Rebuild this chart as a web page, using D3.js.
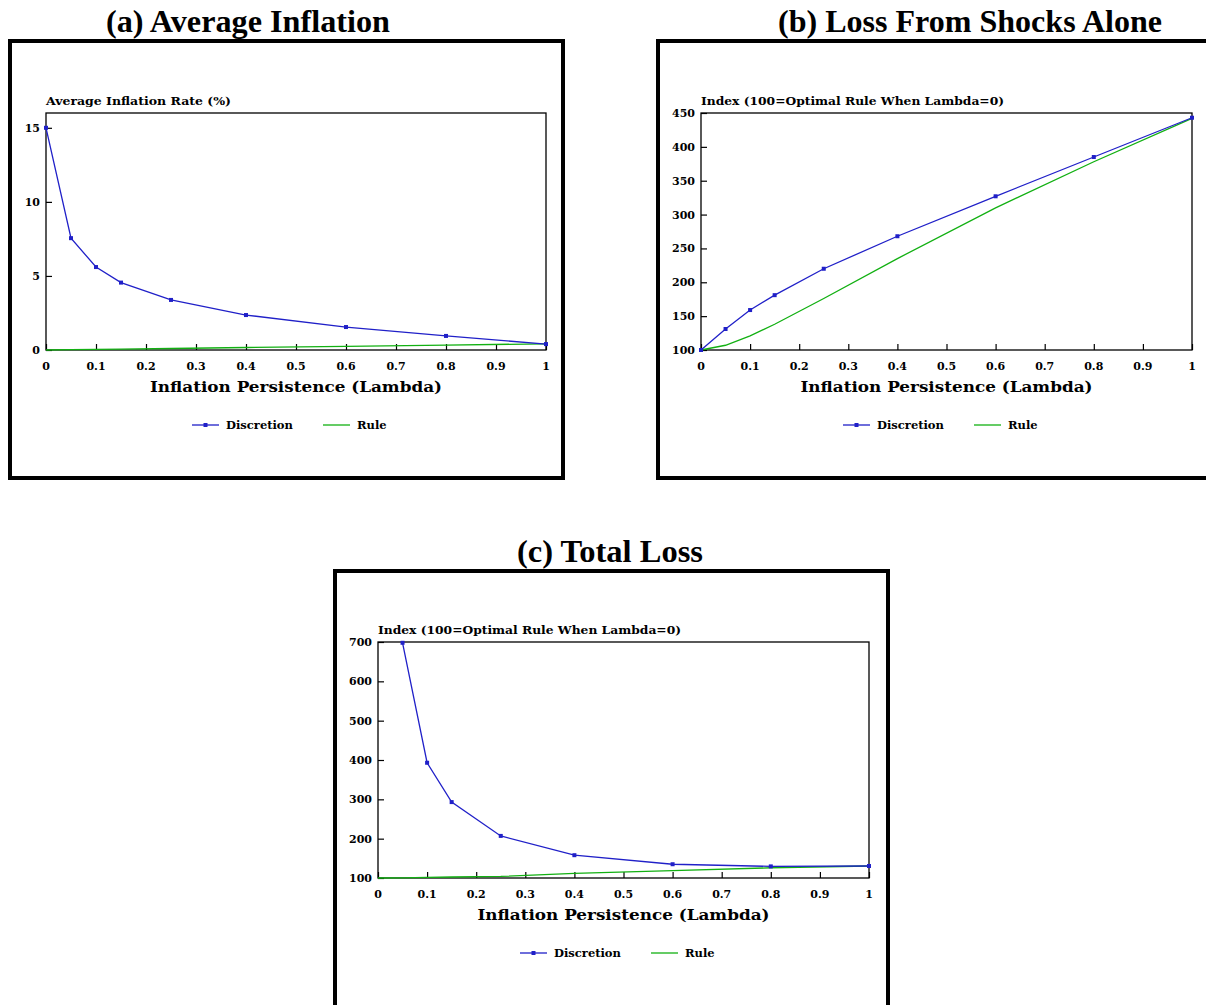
<!DOCTYPE html>
<html>
<head>
<meta charset="utf-8">
<script src="https://cdn.jsdelivr.net/npm/d3@7"></script>
<style>
  body { margin: 0; background: #fff; }
  svg { display: block; }
  .tick-label { font-family: "DejaVu Serif", serif; font-weight: bold; font-size: 11px; fill: #000; }
  .ytitle { font-family: "DejaVu Serif", serif; font-weight: bold; font-size: 11px; fill: #000; }
  .xtitle { font-family: "DejaVu Serif", serif; font-weight: bold; font-size: 15px; fill: #000; }
  .legend { font-family: "DejaVu Serif", serif; font-weight: bold; font-size: 11.5px; fill: #000; }
  .title { font-family: "Liberation Serif", "Times New Roman", serif; font-weight: bold; font-size: 31px; fill: #000; }
</style>
</head>
<body>
<svg id="chart" width="1206" height="1005"></svg>
<script>
// lambda grid shared by the series
const lambdas = [0, 0.05, 0.1, 0.15, 0.25, 0.4, 0.6, 0.8, 1];
const xTicks = [0, 0.1, 0.2, 0.3, 0.4, 0.5, 0.6, 0.7, 0.8, 0.9, 1];
const legendNames = ["Discretion", "Rule"];

// (a) average inflation
const inflDiscretion = [15, 7.55, 5.6, 4.55, 3.38, 2.36, 1.55, 0.95, 0.4];
const inflRule = [0, 0.02, 0.04, 0.06, 0.1, 0.17, 0.25, 0.33, 0.42];
const inflTicks = [0, 5, 10, 15];

// (b) loss from shocks alone
const shockDiscretion = [100, 131, 159, 181, 220, 268, 327, 385, 443];
const shockRule = [100, 107, 121, 138, 176, 235, 310, 378, 442];
const shockTicks = [100, 150, 200, 250, 300, 350, 400, 450];

// (c) total loss (discretion starts at 0.05, off the scale at 0)
const totalLambdas = [0.05, 0.1, 0.15, 0.25, 0.4, 0.6, 0.8, 1];
const totalDiscretion = [698, 393, 293, 207, 158, 135, 129.5, 130.5];
const totalRule = [100, 100.5, 101.5, 102.5, 104, 112, 118.5, 126, 130.5];
const lossTicks = [100, 200, 300, 400, 500, 600, 700];

const blue = "#2020c8";
const green = "#12b012";

const svg = d3.select("#chart");

function drawPanel(p) {
  // outer frame
  svg.append("rect")
    .attr("x", p.boxX).attr("y", p.boxY)
    .attr("width", 553).attr("height", 437)
    .attr("fill", "none").attr("stroke", "#000").attr("stroke-width", 4);

  svg.append("text")
    .attr("class", "title")
    .attr("x", p.titleX).attr("y", p.boxY - 9)
    .attr("text-anchor", "middle")
    .attr("textLength", p.titleLen).attr("lengthAdjust", "spacingAndGlyphs")
    .text(p.title);

  let left = p.boxX + p.plotDx;
  let top = p.boxY + p.plotDy;
  let w = p.plotW, h = p.plotH;

  let x = d3.scaleLinear().domain([0, 1]).range([left, left + w]);
  let y = d3.scaleLinear().domain(p.yDomain).range([top + h, top]);

  let g = svg.append("g");

  // y axis, ticks pointing inward
  g.append("g")
    .attr("transform", "translate(" + left + ",0)")
    .call(d3.axisRight(y).tickValues(p.yTicks).tickSize(6).tickFormat(""))
    .call(a => a.select(".domain").remove())
    .selectAll("line").attr("stroke", "#000").attr("stroke-width", 1.2);

  g.selectAll(".ylab").data(p.yTicks).enter().append("text")
    .attr("class", "tick-label")
    .attr("x", left - 6).attr("y", d => y(d))
    .attr("dy", "0.36em").attr("text-anchor", "end")
    .text(d => d);

  // x axis, ticks pointing inward
  g.append("g")
    .attr("transform", "translate(0," + (top + h) + ")")
    .call(d3.axisTop(x).tickValues(xTicks).tickSize(6).tickFormat(""))
    .call(a => a.select(".domain").remove())
    .selectAll("line").attr("stroke", "#000").attr("stroke-width", 1.2);

  g.selectAll(".xlab").data(xTicks).enter().append("text")
    .attr("class", "tick-label")
    .attr("x", d => x(d)).attr("y", top + h + 20)
    .attr("text-anchor", "middle")
    .text(d => (d === 0 || d === 1) ? String(d) : d3.format(".1f")(d));

  // plot frame
  g.append("rect")
    .attr("x", left).attr("y", top).attr("width", w).attr("height", h)
    .attr("fill", "none").attr("stroke", "#000").attr("stroke-width", 1.3);

  g.append("text")
    .attr("class", "ytitle")
    .attr("x", left).attr("y", top - 8)
    .attr("textLength", p.yTitleLen).attr("lengthAdjust", "spacingAndGlyphs")
    .text(p.yTitle);

  g.append("text")
    .attr("class", "xtitle")
    .attr("x", left + w / 2).attr("y", top + h + 42)
    .attr("text-anchor", "middle")
    .attr("textLength", 292).attr("lengthAdjust", "spacingAndGlyphs")
    .text("Inflation Persistence (Lambda)");

  let line = d3.line().x(d => x(d[0])).y(d => y(d[1]));
  let rulePts = lambdas.map((l, i) => [l, p.rule[i]]);
  let discPts = p.discX.map((l, i) => [l, p.disc[i]]);

  g.append("path").datum(rulePts)
    .attr("d", line).attr("fill", "none")
    .attr("stroke", green).attr("stroke-width", 1.3);

  g.append("path").datum(discPts)
    .attr("d", line).attr("fill", "none")
    .attr("stroke", blue).attr("stroke-width", 1.3);

  g.selectAll(".mark").data(discPts).enter().append("rect")
    .attr("x", d => x(d[0]) - 2).attr("y", d => y(d[1]) - 2)
    .attr("width", 4).attr("height", 4).attr("fill", blue);

  // legend
  let ly = top + h + 75;
  let lx = p.legendX;
  g.append("line")
    .attr("x1", lx).attr("x2", lx + 27).attr("y1", ly).attr("y2", ly)
    .attr("stroke", blue).attr("stroke-width", 1.3);
  g.append("rect")
    .attr("x", lx + 11.5).attr("y", ly - 2).attr("width", 4).attr("height", 4)
    .attr("fill", blue);
  g.append("text").attr("class", "legend")
    .attr("x", lx + 34).attr("y", ly + 4).text(legendNames[0]);

  g.append("line")
    .attr("x1", lx + 131).attr("x2", lx + 158).attr("y1", ly).attr("y2", ly)
    .attr("stroke", green).attr("stroke-width", 1.3);
  g.append("text").attr("class", "legend")
    .attr("x", lx + 165).attr("y", ly + 4).text(legendNames[1]);
}

drawPanel({
  boxX: 10, boxY: 41, plotDx: 36, plotDy: 72, plotW: 500, plotH: 237,
  title: "(a) Average Inflation", titleX: 248, titleLen: 284,
  yTitle: "Average Inflation Rate (%)", yTitleLen: 185,
  yDomain: [0, 16], yTicks: inflTicks,
  discX: lambdas, disc: inflDiscretion, rule: inflRule,
  legendX: 192
});

drawPanel({
  boxX: 658, boxY: 41, plotDx: 43, plotDy: 72, plotW: 491, plotH: 237,
  title: "(b) Loss From Shocks Alone", titleX: 970, titleLen: 384,
  yTitle: "Index (100=Optimal Rule When Lambda=0)", yTitleLen: 303,
  yDomain: [100, 450], yTicks: shockTicks,
  discX: lambdas, disc: shockDiscretion, rule: shockRule,
  legendX: 843
});

drawPanel({
  boxX: 335, boxY: 571, plotDx: 43, plotDy: 71, plotW: 491, plotH: 236,
  title: "(c) Total Loss", titleX: 610, titleLen: 186,
  yTitle: "Index (100=Optimal Rule When Lambda=0)", yTitleLen: 303,
  yDomain: [100, 700], yTicks: lossTicks,
  discX: totalLambdas, disc: totalDiscretion, rule: totalRule,
  legendX: 520
});
</script>
</body>
</html>
